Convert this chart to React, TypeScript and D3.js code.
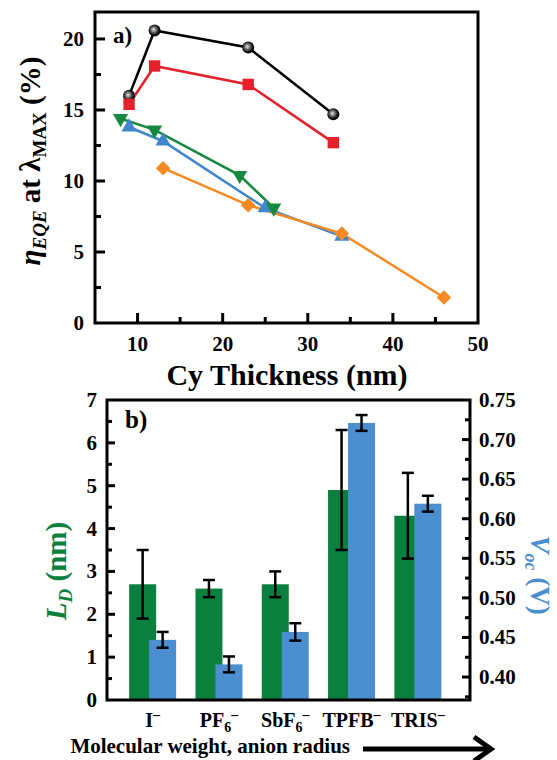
import React from "react";
import * as d3 from "d3";

// ---------- Panel a data ----------
const blackX = [9, 12, 23, 33];
const blackY = [16.0, 20.6, 19.4, 14.7];
const redX = [9, 12, 23, 33];
const redY = [15.4, 18.1, 16.8, 12.7];
const greenX = [8, 12, 22, 26];
const greenY = [14.4, 13.6, 10.4, 8.1];
const blueX = [9, 13, 25, 34];
const blueY = [13.8, 12.8, 8.1, 6.1];
const orangeX = [13, 23, 34, 46];
const orangeY = [10.9, 8.3, 6.3, 1.8];
const xTicksA = [10, 20, 30, 40, 50];
const xMinorA = [15, 25, 35, 45];
const yTicksA = [0, 5, 10, 15, 20];
const yMinorA = [2.5, 7.5, 12.5, 17.5];

// ---------- Panel b data ----------
const anions = ["I", "PF6", "SbF6", "TPFB", "TRIS"];
const LD = [2.7, 2.6, 2.7, 4.9, 4.3];
const LDerr = [0.8, 0.2, 0.3, 1.4, 1.0];
const Voc = [0.447, 0.416, 0.457, 0.721, 0.619];
const VocErr = [0.01, 0.01, 0.011, 0.01, 0.01];
const yTicksL = [0, 1, 2, 3, 4, 5, 6, 7];
const yTicksR = [0.4, 0.45, 0.5, 0.55, 0.6, 0.65, 0.7, 0.75];

const FONT = "'Liberation Serif', 'Times New Roman', serif";
const C_BLACK = "#000000";
const C_RED = "#e5202a";
const C_GREEN = "#16883f";
const C_BLUE = "#3f86cc";
const C_ORANGE = "#f68a20";
const B_GREEN = "#0b7f3d";
const B_BLUE = "#4b8fd0";

export default function App() {
  // Panel a scales
  const xa = d3.scaleLinear().domain([5, 50]).range([95, 478]);
  const ya = d3.scaleLinear().domain([0, 21.9]).range([323, 12]);
  const line = (xs: number[], ys: number[]) =>
    d3.line<number>().x((_, i) => xa(xs[i])).y((_, i) => ya(ys[i]))(xs.map((_, i) => i)) || "";

  // Panel b scales
  const bx = d3.scaleBand<string>().domain(anions).range([119.5, 451]).padding(0);
  const yl = d3.scaleLinear().domain([0, 7]).range([700, 400]);
  const yr = d3.scaleLinear().domain([0.371, 0.75]).range([700, 400]);
  const center = (c: string) => (bx(c) as number) + bx.bandwidth() / 2;
  const barW = 27;

  const triUp = d3.symbol().type(d3.symbolTriangle).size(100)() || "";
  const tri = (x: number, y: number, down: boolean) =>
    `translate(${x},${y}) ${down ? "rotate(180)" : ""}`;
  const diamond = d3.symbol().type(d3.symbolSquare).size(105)() || "";
  const square = d3.symbol().type(d3.symbolSquare).size(130)() || "";

  const catLabel = (c: string) => {
    switch (c) {
      case "I":
        return (<>I<tspan dy={-8} fontSize={14}>–</tspan></>);
      case "PF6":
        return (<>PF<tspan dy={5} fontSize={14}>6</tspan><tspan dy={-13} fontSize={14}>–</tspan></>);
      case "SbF6":
        return (<>SbF<tspan dy={5} fontSize={14}>6</tspan><tspan dy={-13} fontSize={14}>–</tspan></>);
      case "TPFB":
        return (<>TPFB<tspan dy={-8} fontSize={14}>–</tspan></>);
      default:
        return (<>TRIS<tspan dy={-8} fontSize={14}>–</tspan></>);
    }
  };

  return (
    <svg
      width={557}
      height={760}
      style={{ position: "absolute", left: 0, top: 0, background: "#fff" }}
      fontFamily={FONT}
      fontWeight="bold"
    >
      <defs>
        <radialGradient id="ball" cx="0.45" cy="0.45" r="0.6" fx="0.42" fy="0.42">
          <stop offset="0" stopColor="#e8e8e8" />
          <stop offset="0.35" stopColor="#777" />
          <stop offset="0.7" stopColor="#111" />
          <stop offset="1" stopColor="#000" />
        </radialGradient>
      </defs>

      {/* ================= Panel a ================= */}
      <rect x={95} y={12} width={383} height={311} fill="none" stroke="#000" strokeWidth={3} />
      {xTicksA.filter((t) => t < 50).map((t) => (
        <line key={"xt" + t} x1={xa(t)} x2={xa(t)} y1={323} y2={313} stroke="#000" strokeWidth={3} />
      ))}
      {xMinorA.map((t) => (
        <line key={"xm" + t} x1={xa(t)} x2={xa(t)} y1={323} y2={317} stroke="#000" strokeWidth={3} />
      ))}
      {yTicksA.filter((t) => t > 0).map((t) => (
        <line key={"yt" + t} x1={95} x2={105} y1={ya(t)} y2={ya(t)} stroke="#000" strokeWidth={3} />
      ))}
      {yMinorA.map((t) => (
        <line key={"ym" + t} x1={95} x2={101} y1={ya(t)} y2={ya(t)} stroke="#000" strokeWidth={3} />
      ))}
      {xTicksA.map((t) => (
        <text key={"xl" + t} x={xa(t)} y={351} textAnchor="middle" fontSize={21}>{t}</text>
      ))}
      {yTicksA.map((t) => (
        <text key={"yl" + t} x={84} y={ya(t) + 7} textAnchor="end" fontSize={21}>{t}</text>
      ))}
      <text x={113} y={43} fontSize={23}>a)</text>

      {/* series lines */}
      <path d={line(blackX, blackY)} fill="none" stroke={C_BLACK} strokeWidth={2.5} />
      <path d={line(redX, redY)} fill="none" stroke={C_RED} strokeWidth={2.5} />
      <path d={line(blueX, blueY)} fill="none" stroke={C_BLUE} strokeWidth={2.5} />
      <path d={line(greenX, greenY)} fill="none" stroke={C_GREEN} strokeWidth={2.5} />
      <path d={line(orangeX, orangeY)} fill="none" stroke={C_ORANGE} strokeWidth={2.5} />

      {blackX.map((x, i) => (
        <circle key={"bk" + i} cx={xa(x)} cy={ya(blackY[i])} r={6} fill="url(#ball)" />
      ))}
      {redX.map((x, i) => (
        <path key={"rd" + i} d={square} transform={`translate(${xa(x)},${ya(redY[i])})`} fill={C_RED} />
      ))}
      {blueX.map((x, i) => (
        <path key={"bl" + i} d={triUp} transform={tri(xa(x), ya(blueY[i]), false)} fill={C_BLUE} />
      ))}
      {greenX.map((x, i) => (
        <path key={"gr" + i} d={triUp} transform={tri(xa(x), ya(greenY[i]), true)} fill={C_GREEN} />
      ))}
      {orangeX.map((x, i) => (
        <path key={"or" + i} d={diamond} transform={`translate(${xa(x)},${ya(orangeY[i])}) rotate(45)`} fill={C_ORANGE} />
      ))}

      <text x={287} y={385} textAnchor="middle" fontSize={30}>Cy Thickness (nm)</text>
      <text transform="translate(40,161) rotate(-90)" textAnchor="middle" fontSize={29}>
        <tspan fontStyle="italic">η</tspan>
        <tspan fontStyle="italic" fontSize={19} dy={6}>EQE</tspan>
        <tspan dy={-6}> at λ</tspan>
        <tspan fontSize={19} dy={6}>MAX</tspan>
        <tspan dy={-6}> (%)</tspan>
      </text>

      {/* ================= Panel b ================= */}
      {anions.map((c, i) => (
        <rect key={"gb" + c} x={center(c) - 10 - barW / 2} y={yl(LD[i])} width={barW} height={700 - yl(LD[i])} fill={B_GREEN} />
      ))}
      {anions.map((c, i) => (
        <rect key={"bb" + c} x={center(c) + 10 - barW / 2} y={yr(Voc[i])} width={barW} height={700 - yr(Voc[i])} fill={B_BLUE} />
      ))}
      {anions.map((c, i) => {
        const x = center(c) - 10;
        const y1 = yl(LD[i] - LDerr[i]);
        const y2 = yl(LD[i] + LDerr[i]);
        return (
          <g key={"ge" + c} stroke="#000" strokeWidth={2.5}>
            <line x1={x} x2={x} y1={y1} y2={y2} />
            <line x1={x - 6} x2={x + 6} y1={y1} y2={y1} />
            <line x1={x - 6} x2={x + 6} y1={y2} y2={y2} />
          </g>
        );
      })}
      {anions.map((c, i) => {
        const x = center(c) + 10;
        const y1 = yr(Voc[i] - VocErr[i]);
        const y2 = yr(Voc[i] + VocErr[i]);
        return (
          <g key={"be" + c} stroke="#000" strokeWidth={2.5}>
            <line x1={x} x2={x} y1={y1} y2={y2} />
            <line x1={x - 6} x2={x + 6} y1={y1} y2={y1} />
            <line x1={x - 6} x2={x + 6} y1={y2} y2={y2} />
          </g>
        );
      })}

      <rect x={107} y={400} width={363} height={300} fill="none" stroke="#000" strokeWidth={3} />
      {yTicksL.filter((t) => t > 0 && t < 7).map((t) => (
        <line key={"lt" + t} x1={107} x2={115} y1={yl(t)} y2={yl(t)} stroke="#000" strokeWidth={3} />
      ))}
      {yTicksL.filter((t) => t < 7).map((t) => (
        <line key={"lm" + t} x1={107} x2={112} y1={yl(t + 0.5)} y2={yl(t + 0.5)} stroke="#000" strokeWidth={3} />
      ))}
      {yTicksL.map((t) => (
        <text key={"ll" + t} x={97} y={yl(t) + 7} textAnchor="end" fontSize={21}>{t}</text>
      ))}
      {yTicksR.filter((t) => t < 0.74).map((t) => (
        <line key={"rt" + t} x1={462} x2={470} y1={yr(t)} y2={yr(t)} stroke="#000" strokeWidth={3} />
      ))}
      {yTicksR.filter((t) => t < 0.74).map((t) => (
        <line key={"rm" + t} x1={465} x2={470} y1={yr(t + 0.025)} y2={yr(t + 0.025)} stroke="#000" strokeWidth={3} />
      ))}
      <line x1={465} x2={470} y1={yr(0.375)} y2={yr(0.375)} stroke="#000" strokeWidth={3} />
      {yTicksR.map((t) => (
        <text key={"rl" + t} x={479} y={yr(t) + 7} textAnchor="start" fontSize={21}>{t.toFixed(2)}</text>
      ))}
      <text x={125} y={428} fontSize={25}>b)</text>

      {anions.map((c) => (
        <text key={"cl" + c} x={center(c)} y={727} textAnchor="middle" fontSize={20}>{catLabel(c)}</text>
      ))}
      <text x={350} y={753} textAnchor="end" fontSize={21}>Molecular weight, anion radius</text>
      <line x1={363} x2={489} y1={749} y2={749} stroke="#000" strokeWidth={5} />
      <polyline points="474,737 491,749 474,761" fill="none" stroke="#000" strokeWidth={5} />

      <text transform="translate(66,571) rotate(-90)" textAnchor="middle" fontSize={29} fill={B_GREEN}>
        <tspan fontStyle="italic">L</tspan>
        <tspan fontStyle="italic" fontSize={19} dy={6}>D</tspan>
        <tspan dy={-6}> (nm)</tspan>
      </text>
      <text transform="translate(531,575) rotate(90)" textAnchor="middle" fontSize={27} fill={B_BLUE}>
        <tspan fontStyle="italic">V</tspan>
        <tspan fontStyle="italic" fontSize={18} dy={6}>oc</tspan>
        <tspan dy={-6}> (V)</tspan>
      </text>
    </svg>
  );
}
